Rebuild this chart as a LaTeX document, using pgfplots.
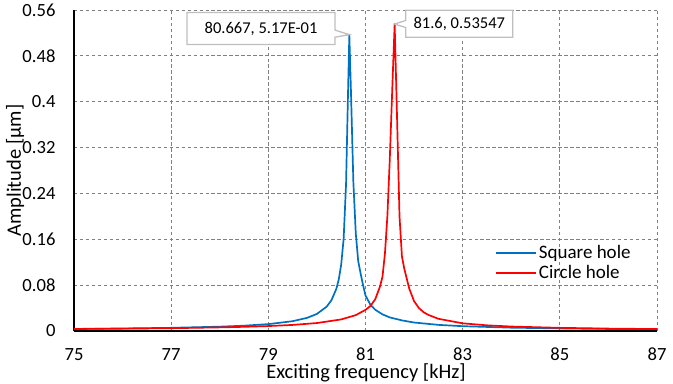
\documentclass[border=0pt]{standalone}
\usepackage{pgfplots}
\pgfplotsset{compat=1.18}
\usepackage{fontspec}
\setmainfont{Carlito}
\usetikzlibrary{shapes.callouts}
\definecolor{xlblue}{HTML}{0070C0}
\definecolor{xlred}{HTML}{FF0000}
\definecolor{gridgray}{HTML}{808080}
\definecolor{callgray}{HTML}{BFBFBF}
\begin{document}
\fontsize{19bp}{23bp}\selectfont
\begin{tikzpicture}
\begin{axis}[
  scale only axis, width=583bp, height=321bp,
  xmin=75, xmax=87, ymin=0, ymax=0.56,
  xtick={75,77,79,81,83,85,87},
  xticklabels={75,77,79,81,83,85,87},
  ytick={0,0.08,0.16,0.24,0.32,0.4,0.48,0.56},
  yticklabels={0,0.08,0.16,0.24,0.32,0.4,0.48,0.56},
  scaled y ticks=false,
  axis x line*=bottom, axis y line*=left,
  axis line style={black, line width=2.2pt, -},
  grid=major,
  major grid style={gridgray, line width=0.8pt, dash pattern=on 3.5pt off 2.5pt},
  major tick length=0pt,
  /pgf/number format/assume math mode=true,
  tick label style={font=\fontsize{18.6bp}{22bp}\selectfont},
  xticklabel style={anchor=base, yshift=-29bp},
  yticklabel style={anchor=east, xshift=-12bp},
  xlabel={Exciting frequency [kHz]},
  ylabel={Amplitude [µm]},
  xlabel style={at={(axis description cs:0.5009,-0.1495)}, anchor=base, font=\fontsize{20.5bp}{24bp}\selectfont},
  ylabel style={at={(axis description cs:-0.1012,0.5)}, anchor=center, font=\fontsize{20.5bp}{24bp}\selectfont},
  legend style={at={(axis description cs:0.7221,0.2118)}, anchor=west, draw=none, fill=none,
    inner sep=0pt, row sep=0pt, font=\fontsize{19bp}{22bp}\selectfont,
    /tikz/every even column/.append style={column sep=0pt}},
  legend cell align=left,
  legend image code/.code={\draw[#1,line cap=butt] (0bp,0bp) -- (40bp,0bp);},
  clip=false,
]
\addplot[xlblue, line width=1.7pt, line join=round] coordinates {
(75,0.00363)(76,0.00438)(77,0.00553)(78,0.00756)(78.5,0.00928)(79,0.0120)
(79.5,0.0171)(79.8,0.0230)(80,0.0298)(80.2,0.0424)(80.3,0.0538)(80.4,0.0736)
(80.45,0.090)(80.5,0.116)(80.55,0.161)(80.6,0.257)(80.633,0.387)(80.667,0.517)
(80.7,0.42)(80.75,0.26)(80.8,0.17)(80.85,0.122)(80.9,0.1)(80.95,0.08)(81,0.062)
(81.1,0.046)(81.2,0.0371)(81.35,0.029)(81.5,0.0237)(81.75,0.0185)(82,0.0148)
(82.5,0.0107)(83,0.0084)(84,0.0058)(85,0.0045)(86,0.0036)(87,0.0030)
};
\addlegendentry{Square hole}
\addplot[xlred, line width=1.7pt, line join=round] coordinates {
(75,0.0035)(76,0.0041)(77,0.0049)(78,0.0063)(78.5,0.0073)(79,0.0086)
(79.5,0.0106)(80,0.0139)(80.5,0.0202)(80.8,0.0277)(81,0.0369)(81.1,0.0435)
(81.2,0.0553)(81.3,0.078)(81.35,0.095)(81.4,0.135)(81.45,0.2)(81.5,0.3)
(81.55,0.42)(81.6,0.53547)(81.65,0.37)(81.7,0.2)(81.75,0.13)(81.8,0.108)
(81.9,0.074)(82,0.052)(82.1,0.040)(82.2,0.0325)(82.3,0.0279)(82.5,0.0213)
(83,0.0134)(83.5,0.0099)(84,0.0078)(85,0.0055)(86,0.0042)(87,0.0034)
};
\addlegendentry{Circle hole}
\node[rectangle callout, draw=callgray, line width=1.3pt, fill=white,
  minimum width=148bp, minimum height=32bp, inner sep=0pt,
  callout absolute pointer={(axis cs:80.667,0.517)},
  font=\fontsize{16.5bp}{18bp}\selectfont]
  at (axis cs:78.85,0.5277) {80.667, 5.17E-01};
\node[rectangle callout, draw=callgray, line width=1.3pt, fill=white,
  minimum width=107bp, minimum height=27bp, inner sep=0pt,
  callout absolute pointer={(axis cs:81.6,0.53547)},
  font=\fontsize{16.5bp}{18bp}\selectfont]
  at (axis cs:82.93,0.5361) {81.6, 0.53547};
\end{axis}
\pgfresetboundingbox
\path[use as bounding box] (-74bp,-53bp) rectangle (599bp,331bp);
\end{tikzpicture}
\end{document}
